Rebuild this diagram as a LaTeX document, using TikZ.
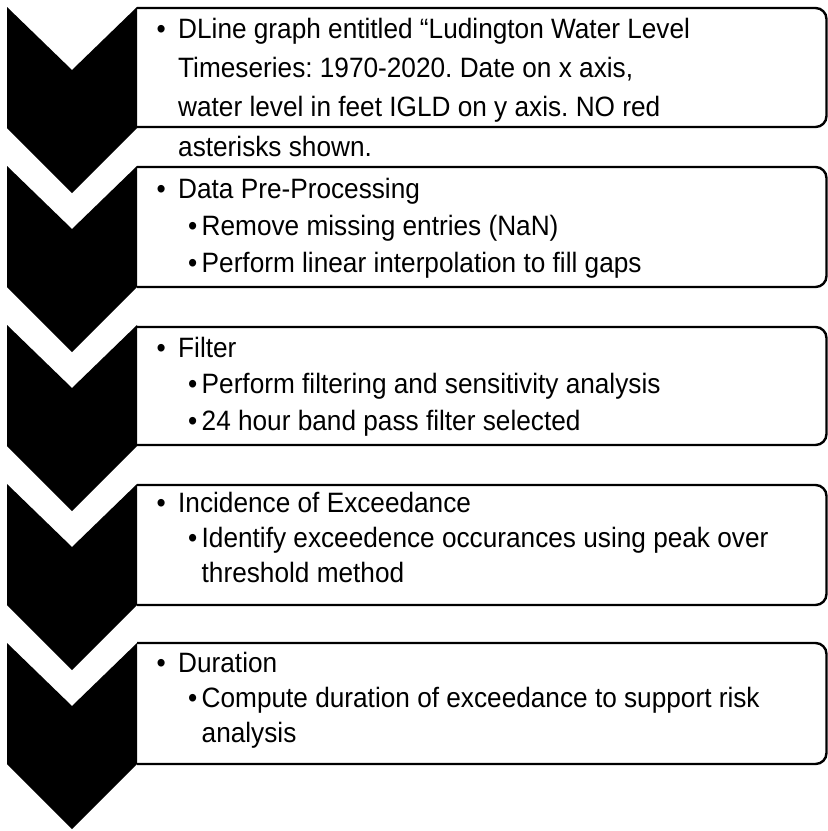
\documentclass[tikz,border=0pt]{standalone}
\usepackage{fontspec}
\setmainfont{Liberation Sans}[FakeStretch=0.936]
\frenchspacing
\begin{document}
\begin{tikzpicture}[x=1pt,y=-1pt,
  chev/.style={fill=black},
  boxline/.style={draw=black,line width=2.4pt,rounded corners=11pt},
  txt/.style={anchor=base west,inner sep=0pt,font=\fontsize{28}{32}\selectfont,text=black}]
\useasboundingbox (0,0) rectangle (828,831);
% boxes
\foreach \t/\b in {8/127,167/287,327/445,485/605,643/764}{
  \draw[boxline] (137,\t) -- (826.5,\t) -- (826.5,\b) -- (137,\b);
}
% chevrons
\foreach \t in {7,166,325,484,643}{
  \fill[chev] (7,\t) -- (72,\t+63) -- (137,\t) -- (137,\t+121) -- (72,\t+186) -- (7,\t+121) -- cycle;
}
% box 1
\node[txt] (b1a) at (156.5,38) {•};
\node[txt] (t1a) at (178,38) {DLine graph entitled “Ludington Water Level};
\node[txt] (t1b) at (178,77) {Timeseries: 1970-2020. Date on x axis,};
\node[txt] (t1c) at (178,116.5) {water level in feet IGLD on y axis. NO red};
\node[txt] (t1d) at (178,156) {asterisks shown.};
% box 2
\node[txt] (b2a) at (156.5,198) {•};
\node[txt] (t2a) at (178,198) {Data Pre-Processing};
\node[txt] (b2b) at (188,235) {•};
\node[txt] (t2b) at (201.5,235) {Remove missing entries (NaN)};
\node[txt] (b2c) at (188,272) {•};
\node[txt] (t2c) at (201.5,272) {Perform linear interpolation to fill gaps};
% box 3
\node[txt] (b3a) at (156.5,357) {•};
\node[txt] (t3a) at (178,357) {Filter};
\node[txt] (b3b) at (188,393.5) {•};
\node[txt] (t3b) at (201.5,393.5) {Perform filtering and sensitivity analysis};
\node[txt] (b3c) at (188,430) {•};
\node[txt] (t3c) at (201.5,430) {24 hour band pass filter selected};
% box 4
\node[txt] (b4a) at (156.5,512) {•};
\node[txt] (t4a) at (178,512) {Incidence of Exceedance};
\node[txt] (b4b) at (188,547) {•};
\node[txt] (t4b) at (201.5,547) {Identify exceedence occurances using peak over};
\node[txt] (t4c) at (201.5,582) {threshold method};
% box 5
\node[txt] (b5a) at (156.5,672) {•};
\node[txt] (t5a) at (178,672) {Duration};
\node[txt] (b5b) at (188,707) {•};
\node[txt] (t5b) at (201.5,707) {Compute duration of exceedance to support risk};
\node[txt] (t5c) at (201.5,742) {analysis};
\end{tikzpicture}
\end{document}
